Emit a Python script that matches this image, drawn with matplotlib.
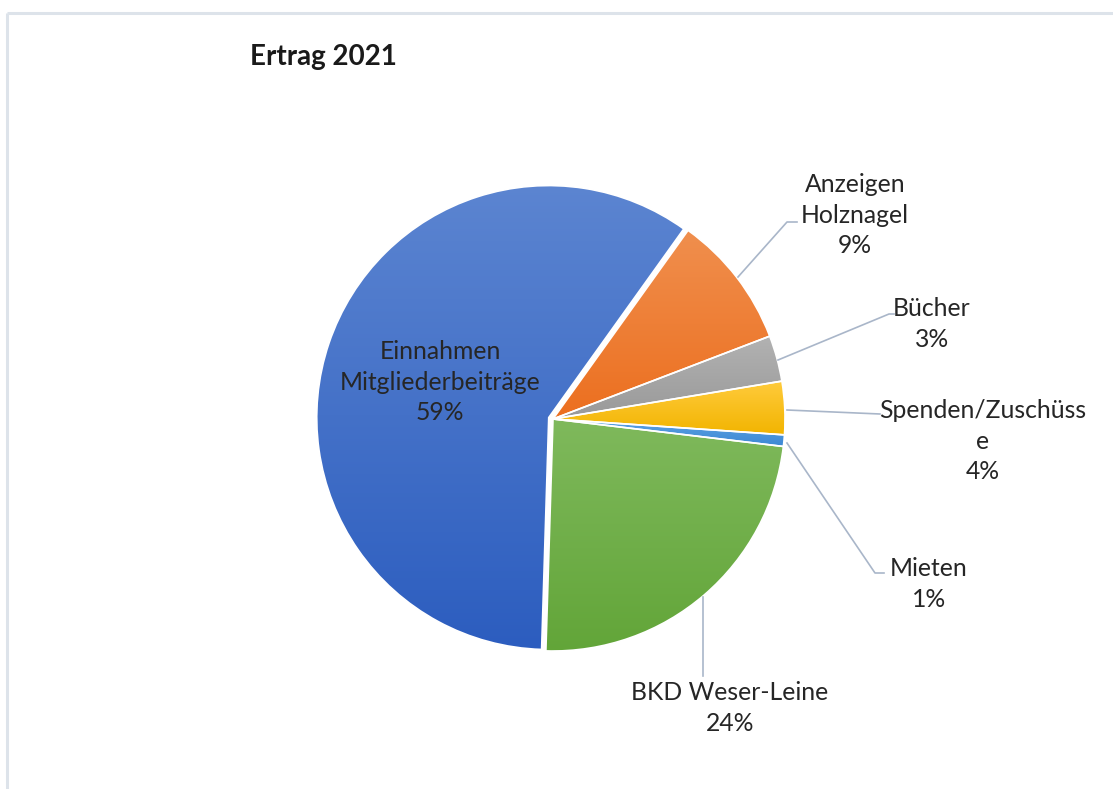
import numpy as np
import matplotlib
matplotlib.use("Agg")
import matplotlib.pyplot as plt
from matplotlib.colors import to_rgb

# ---- data ----
categories = ["Anzeigen\nHolznagel", "Bücher", "Spenden/Zuschüss\ne", "Mieten",
              "BKD Weser-Leine", "Einnahmen\nMitgliederbeiträge"]
values = [9.3, 3.2, 3.7, 0.8, 23.6, 59.4]
title = "Ertrag 2021"

# ---- style ----
top_colors = ["#f08f4e", "#b2b2b2", "#ffcb3c", "#5da2e2", "#7fb95c", "#5c85d1"]
bot_colors = ["#ec6f1f", "#999999", "#f2b400", "#3d89d5", "#62a538", "#2c5dbf"]
W, H = 1113, 789
plt.rcParams['font.family'] = ['Lato', 'DejaVu Sans']

fig = plt.figure(figsize=(W / 100, H / 100), dpi=100)
ax = fig.add_axes([0, 0, 1, 1])
ax.set_xlim(0, W)
ax.set_ylim(0, H)
ax.set_aspect('equal')
ax.axis('off')

def py(y):
    return H - y

# border (top & left)
bc = "#dde3ea"
ax.plot([7, W], [py(13), py(13)], color=bc, lw=2.2, solid_capstyle='butt')
ax.plot([7, 7], [py(13), 0], color=bc, lw=2.2, solid_capstyle='butt')

cx, cy, R = 553, py(419), 232
explode = [0, 0, 0, 0, 0, 4.5]
wedges, _ = ax.pie(values, startangle=54.4, counterclock=False,
                   center=(cx, cy), radius=R, explode=explode,
                   wedgeprops=dict(edgecolor="white", linewidth=1.2),
                   frame=True)
ax.set_xlim(0, W)
ax.set_ylim(0, H)
ax.axis('off')

# gradient fills
for w, ct, cb in zip(wedges, top_colors, bot_colors):
    verts = w.get_patch_transform().transform(w.get_path().vertices)
    x0, y0 = verts.min(axis=0)
    x1, y1 = verts.max(axis=0)
    t = np.linspace(0, 1, 256)[:, None]
    c0, c1 = np.array(to_rgb(ct)), np.array(to_rgb(cb))
    img = (c0[None, :] * (1 - t) + c1[None, :] * t)[:, None, :]
    im = ax.imshow(img, extent=[x0, x1, y0, y1], origin='upper',
                   aspect='auto', zorder=1, interpolation='bilinear')
    im.set_clip_path(w)
    w.set_facecolor('none')
    w.set_zorder(2)

ax.set_xlim(0, W)
ax.set_ylim(0, H)

total = sum(values)
pcts = [f"{round(v / total * 100)}%" for v in values]

tc = "#262626"
fs = 17.8
ls = 1.42
# label positions (pixel coords of text centre)
label_pos = [(855, 215), (932, 324), (983, 441), (929, 584), (730, 708), (440, 382)]
for cat, pct, (lx, ly) in zip(categories, pcts, label_pos):
    ax.text(lx, py(ly), f"{cat}\n{pct}", ha='center', va='center',
            fontsize=fs, color=tc, linespacing=ls, zorder=5)

# leader lines
lc = "#a9b6c9"
leaders = [
    [(738, 277), (787, 222), (797, 222)],
    [(778, 360), (889, 314), (894, 314)],
    [(787, 410), (880, 414)],
    [(787, 443), (875, 573), (884, 573)],
    [(703, 597), (703, 676)],
]
for pts in leaders:
    xs = [p[0] for p in pts]
    ys = [py(p[1]) for p in pts]
    ax.plot(xs, ys, color=lc, lw=1.2, zorder=3)

ax.text(250, py(57), title, ha='left', va='center', fontsize=20,
        fontweight='bold', color="#1a1a1a")

fig.savefig("out.png", dpi=100)
